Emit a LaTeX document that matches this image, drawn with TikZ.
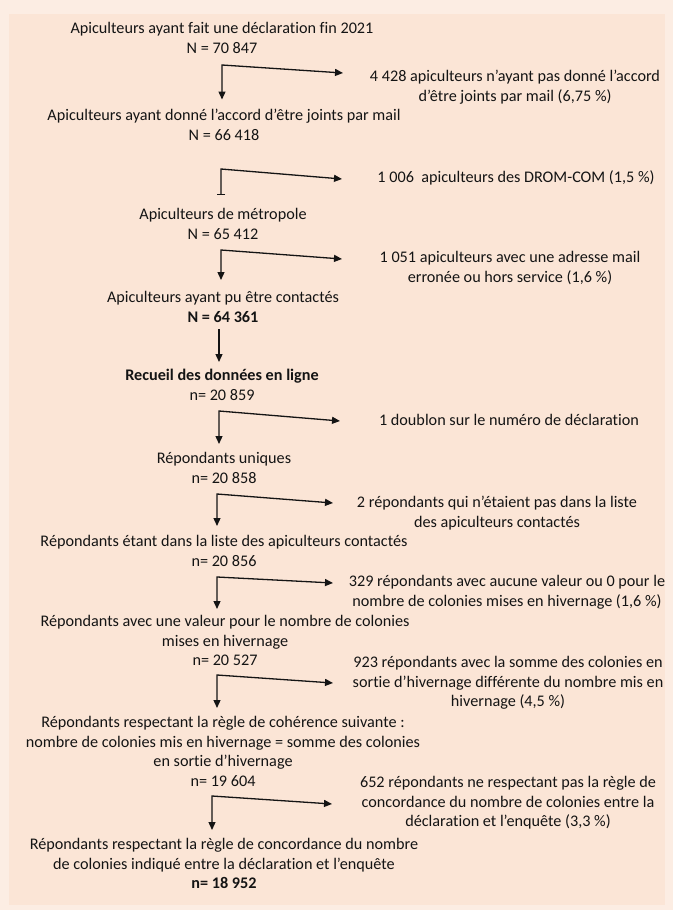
\documentclass[tikz,border=0pt]{standalone}
\usepackage{fontspec}
\setmainfont{Carlito}[Ligatures={NoCommon}]
\usetikzlibrary{arrows.meta}
\definecolor{bgout}{HTML}{FCEDE3}
\definecolor{bgin}{HTML}{FBE5D6}
\definecolor{ink}{HTML}{141414}
\begin{document}
\begin{tikzpicture}[x=1pt,y=-1pt,
  txt/.style={align=center, anchor=north, inner sep=0pt, outer sep=0pt,
    font=\fontsize{16.2}{19.6}\selectfont, text=ink,
    execute at begin node={\rule{0pt}{12pt}}},
  flowline/.style={draw=ink, line width=1.3pt, line join=miter},
  elbow/.style={flowline, {Triangle[length=8pt,width=7pt]}-{Triangle[length=8pt,width=7pt]}},
  elbowbar/.style={flowline, {Triangle[length=8pt,width=7pt]}-{Bar[width=8pt,line width=1.3pt]}},
  down/.style={flowline, -{Triangle[length=8pt,width=7pt]}}]
\useasboundingbox (0,0) rectangle (673,910);
\fill[bgout] (0,0) rectangle (673,910);
\fill[bgin] (9,14) rectangle (665,905);

% left column
\node[txt] (n1) at (222,22.5) {Apiculteurs ayant fait une déclaration fin 2021\\N = 70~847};
\node[txt] (n2) at (224,109.5) {Apiculteurs ayant donné l’accord d’être joints par mail\\N = 66~418};
\node[txt] (n3) at (223,208.5) {Apiculteurs de métropole\\N = 65~412};
\node[txt] (n4) at (223,291.5) {Apiculteurs ayant pu être contactés\\\textbf{N = 64~361}};
\node[txt] (n5) at (222,369.5) {\textbf{Recueil des données en ligne}\\n= 20~859};
\node[txt] (n6) at (224,452.5) {Répondants uniques\\n= 20~858};
\node[txt] (n7) at (224,535.5) {Répondants étant dans la liste des apiculteurs contactés\\n= 20~856};
\node[txt] (n8) at (225,615.5) {Répondants avec une valeur pour le nombre de colonies\\mises en hivernage\\n= 20~527};
\node[txt] (n9) at (223,716.5) {Répondants respectant la règle de cohérence suivante :\\nombre de colonies mis en hivernage = somme des colonies\\en sortie d’hivernage\\n= 19~604};
\node[txt] (n10) at (224,838.5) {Répondants respectant la règle de concordance du nombre\\de colonies indiqué entre la déclaration et l’enquête\\\textbf{n= 18~952}};

% right column
\node[txt] (r1) at (515,70.5) {4~428 apiculteurs n’ayant pas donné l’accord\\d’être joints par mail (6,75~\%)};
\node[txt] (r2) at (516,170.5) {1~006~~apiculteurs des DROM-COM (1,5~\%)};
\node[txt] (r3) at (510,251.5) {1~051 apiculteurs avec une adresse mail\\erronée ou hors service (1,6~\%)};
\node[txt] (r4) at (509,413.5) {1 doublon sur le numéro de déclaration};
\node[txt] (r5) at (497,496.5) {2 répondants qui n’étaient pas dans la liste\\des apiculteurs contactés};
\node[txt] (r6) at (507,575.5) {329 répondants avec aucune valeur ou 0 pour le\\nombre de colonies mises en hivernage (1,6~\%)};
\node[txt] (r7) at (508,656.5) {923 répondants avec la somme des colonies en\\sortie d’hivernage différente du nombre mis en\\hivernage (4,5~\%)};
\node[txt] (r8) at (508,776.5) {652 répondants ne respectant pas la règle de\\concordance du nombre de colonies entre la\\déclaration et l’enquête (3,3~\%)};

% connectors
\coordinate (c1) at (222,65);  \coordinate (h1) at (343,73);
\coordinate (c2) at (221,169); \coordinate (h2) at (342,179);
\coordinate (c3) at (221,250); \coordinate (h3) at (342,259);
\coordinate (c4) at (219,329);
\coordinate (c5) at (219,411); \coordinate (h5) at (340,421);
\coordinate (c6) at (217,494); \coordinate (h6) at (333,503);
\coordinate (c7) at (217,577); \coordinate (h7) at (333,583);
\coordinate (c8) at (217,675); \coordinate (h8) at (333,683);
\coordinate (c9) at (212,796); \coordinate (h9) at (332,804);

\draw[elbow, shorten >=10pt] (h1) -- (c1) -- (c1 |- n2.north);
\draw[elbowbar, shorten >=13.5pt] (h2) -- (c2) -- (c2 |- n3.north);
\draw[elbow, shorten >=11.5pt] (h3) -- (c3) -- (c3 |- n4.north);
\draw[down, shorten >=7.5pt] (c4) -- (c4 |- n5.north);
\draw[elbow, shorten >=8.5pt] (h5) -- (c5) -- (c5 |- n6.north);
\draw[elbow, shorten >=9.5pt] (h6) -- (c6) -- (c6 |- n7.north);
\draw[elbow, shorten >=6.5pt] (h7) -- (c7) -- (c7 |- n8.north);
\draw[elbow, shorten >=8.5pt] (h8) -- (c8) -- (c8 |- n9.north);
\draw[elbow, shorten >=8.5pt] (h9) -- (c9) -- (c9 |- n10.north);
\end{tikzpicture}
\end{document}
